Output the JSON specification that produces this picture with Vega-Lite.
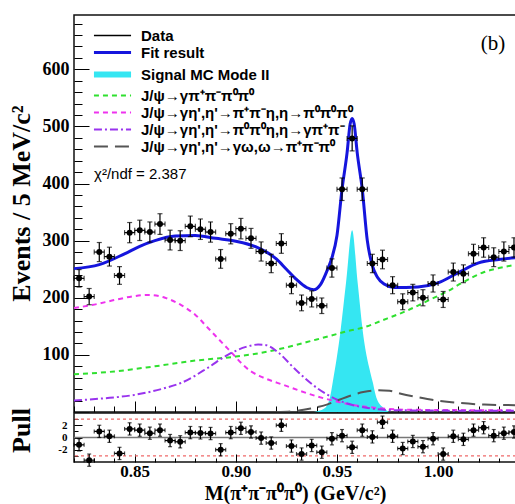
{
  "$schema": "https://vega.github.io/schema/vega-lite/v6.json",
  "background": "white",
  "padding": {"left": 7, "top": 13, "right": 0, "bottom": 0},
  "autosize": {"type": "pad"},
  "spacing": 1,
  "bounds": "flush",
  "config": {
    "view": {"stroke": "#111111", "strokeWidth": 1.5},
    "axis": {"grid": false, "domain": false, "tickColor": "black", "labelColor": "black", "titleColor": "black", "labelOverlap": false, "labelFlush": false}
  },
  "datasets": {
    "pts": [
      {"m": 0.8225, "v": 234, "e": 15.3, "p": -1.2, "w": 0.0025, "pe": 1},
      {"m": 0.8275, "v": 202, "e": 14.2, "p": -3.7, "w": 0.0025, "pe": 1},
      {"m": 0.8325, "v": 280, "e": 16.7, "p": 1.0, "w": 0.0025, "pe": 1},
      {"m": 0.8375, "v": 272, "e": 16.5, "p": 0.2, "w": 0.0025, "pe": 1},
      {"m": 0.8425, "v": 239, "e": 15.5, "p": -2.6, "w": 0.0025, "pe": 1},
      {"m": 0.8475, "v": 314, "e": 17.7, "p": 1.4, "w": 0.0025, "pe": 1},
      {"m": 0.8525, "v": 318, "e": 17.8, "p": 1.2, "w": 0.0025, "pe": 1},
      {"m": 0.8575, "v": 315, "e": 17.7, "p": 0.7, "w": 0.0025, "pe": 1},
      {"m": 0.8625, "v": 329, "e": 18.1, "p": 1.2, "w": 0.0025, "pe": 1},
      {"m": 0.8675, "v": 301, "e": 17.3, "p": -0.5, "w": 0.0025, "pe": 1},
      {"m": 0.8725, "v": 300, "e": 17.3, "p": -0.7, "w": 0.0025, "pe": 1},
      {"m": 0.8775, "v": 325, "e": 18.0, "p": 0.8, "w": 0.0025, "pe": 1},
      {"m": 0.8825, "v": 320, "e": 17.9, "p": 0.75, "w": 0.0025, "pe": 1},
      {"m": 0.8875, "v": 315, "e": 17.7, "p": 0.65, "w": 0.0025, "pe": 1},
      {"m": 0.8925, "v": 268, "e": 16.4, "p": -2.0, "w": 0.0025, "pe": 1},
      {"m": 0.8975, "v": 312, "e": 17.7, "p": 0.8, "w": 0.0025, "pe": 1},
      {"m": 0.9025, "v": 321, "e": 17.9, "p": 1.5, "w": 0.0025, "pe": 1},
      {"m": 0.9075, "v": 304, "e": 17.4, "p": 0.9, "w": 0.0025, "pe": 1},
      {"m": 0.9125, "v": 281, "e": 16.8, "p": -0.1, "w": 0.0025, "pe": 1},
      {"m": 0.9175, "v": 260, "e": 16.1, "p": -0.9, "w": 0.0025, "pe": 1},
      {"m": 0.9225, "v": 295, "e": 17.2, "p": 2.0, "w": 0.0025, "pe": 1},
      {"m": 0.9275, "v": 222, "e": 14.9, "p": -1.4, "w": 0.0025, "pe": 1},
      {"m": 0.9325, "v": 191, "e": 13.8, "p": -2.7, "w": 0.0025, "pe": 1},
      {"m": 0.9375, "v": 198, "e": 14.1, "p": -1.3, "w": 0.0025, "pe": 1},
      {"m": 0.9425, "v": 186, "e": 13.6, "p": -2.4, "w": 0.0025, "pe": 1},
      {"m": 0.9475, "v": 252, "e": 15.9, "p": -0.2, "w": 0.0025, "pe": 1},
      {"m": 0.9525, "v": 390, "e": 19.7, "p": 0.3, "w": 0.0025, "pe": 1},
      {"m": 0.9575, "v": 479, "e": 21.9, "p": -1.6, "w": 0.0025, "pe": 1},
      {"m": 0.9625, "v": 390, "e": 19.7, "p": 1.2, "w": 0.0025, "pe": 1},
      {"m": 0.9675, "v": 260, "e": 16.1, "p": 0.1, "w": 0.0025, "pe": 1},
      {"m": 0.9725, "v": 267, "e": 16.3, "p": 2.5, "w": 0.0025, "pe": 1},
      {"m": 0.9775, "v": 222, "e": 14.9, "p": 0.2, "w": 0.0025, "pe": 1},
      {"m": 0.9825, "v": 193, "e": 13.9, "p": -1.8, "w": 0.0025, "pe": 1},
      {"m": 0.9875, "v": 209, "e": 14.5, "p": -0.65, "w": 0.0025, "pe": 1},
      {"m": 0.9925, "v": 200, "e": 14.1, "p": -1.5, "w": 0.0025, "pe": 1},
      {"m": 0.9975, "v": 225, "e": 15.0, "p": -0.2, "w": 0.0025, "pe": 1},
      {"m": 1.0025, "v": 197, "e": 14.0, "p": -2.7, "w": 0.0025, "pe": 1},
      {"m": 1.0075, "v": 245, "e": 15.7, "p": 0.2, "w": 0.0025, "pe": 1},
      {"m": 1.0125, "v": 242, "e": 15.6, "p": -0.3, "w": 0.0025, "pe": 1},
      {"m": 1.0175, "v": 277, "e": 16.6, "p": 1.2, "w": 0.0025, "pe": 1},
      {"m": 1.0225, "v": 288, "e": 17.0, "p": 1.6, "w": 0.0025, "pe": 1},
      {"m": 1.0275, "v": 271, "e": 16.5, "p": 0.3, "w": 0.0025, "pe": 1},
      {"m": 1.0325, "v": 281, "e": 16.8, "p": 0.7, "w": 0.0025, "pe": 1},
      {"m": 1.0375, "v": 288, "e": 17.0, "p": 0.9, "w": 0.0025, "pe": 1}
    ],
    "fit": [
      {"m": 0.82, "v": 251}, {"m": 0.8325, "v": 258}, {"m": 0.845, "v": 277}, {"m": 0.8525, "v": 290},
      {"m": 0.86, "v": 300}, {"m": 0.87, "v": 308}, {"m": 0.88, "v": 309}, {"m": 0.89, "v": 304},
      {"m": 0.90, "v": 299}, {"m": 0.91, "v": 289}, {"m": 0.92, "v": 268}, {"m": 0.925, "v": 250},
      {"m": 0.93, "v": 232}, {"m": 0.935, "v": 218}, {"m": 0.9385, "v": 214}, {"m": 0.942, "v": 224},
      {"m": 0.9454, "v": 250}, {"m": 0.9475, "v": 270}, {"m": 0.95, "v": 309}, {"m": 0.9525, "v": 390},
      {"m": 0.955, "v": 454}, {"m": 0.9565, "v": 504}, {"m": 0.9575, "v": 514}, {"m": 0.9585, "v": 504},
      {"m": 0.96, "v": 454}, {"m": 0.9625, "v": 390}, {"m": 0.965, "v": 300}, {"m": 0.9675, "v": 256},
      {"m": 0.97, "v": 236}, {"m": 0.9733, "v": 224}, {"m": 0.9783, "v": 218}, {"m": 0.99, "v": 219},
      {"m": 1.0, "v": 226}, {"m": 1.01, "v": 244}, {"m": 1.02, "v": 261}, {"m": 1.03, "v": 267},
      {"m": 1.0385, "v": 270}
    ],
    "sig": [
      {"m": 0.9386, "v": 0}, {"m": 0.9437, "v": 6}, {"m": 0.9465, "v": 25}, {"m": 0.9479, "v": 52},
      {"m": 0.9517, "v": 140}, {"m": 0.9545, "v": 227}, {"m": 0.9575, "v": 318}, {"m": 0.9602, "v": 227},
      {"m": 0.9628, "v": 140}, {"m": 0.9677, "v": 52}, {"m": 0.9695, "v": 25}, {"m": 0.9734, "v": 6},
      {"m": 0.9757, "v": 0}
    ],
    "comp": [
      {"c": "J/ψ→γπ⁺π⁻π⁰π⁰", "m": 0.82, "v": 66},
      {"c": "J/ψ→γπ⁺π⁻π⁰π⁰", "m": 0.84, "v": 71},
      {"c": "J/ψ→γπ⁺π⁻π⁰π⁰", "m": 0.86, "v": 80},
      {"c": "J/ψ→γπ⁺π⁻π⁰π⁰", "m": 0.88, "v": 90},
      {"c": "J/ψ→γπ⁺π⁻π⁰π⁰", "m": 0.90, "v": 97},
      {"c": "J/ψ→γπ⁺π⁻π⁰π⁰", "m": 0.91, "v": 102},
      {"c": "J/ψ→γπ⁺π⁻π⁰π⁰", "m": 0.92, "v": 109},
      {"c": "J/ψ→γπ⁺π⁻π⁰π⁰", "m": 0.94, "v": 127},
      {"c": "J/ψ→γπ⁺π⁻π⁰π⁰", "m": 0.957, "v": 143},
      {"c": "J/ψ→γπ⁺π⁻π⁰π⁰", "m": 0.962, "v": 147},
      {"c": "J/ψ→γπ⁺π⁻π⁰π⁰", "m": 0.975, "v": 164},
      {"c": "J/ψ→γπ⁺π⁻π⁰π⁰", "m": 0.985, "v": 178},
      {"c": "J/ψ→γπ⁺π⁻π⁰π⁰", "m": 0.995, "v": 195},
      {"c": "J/ψ→γπ⁺π⁻π⁰π⁰", "m": 1.005, "v": 212},
      {"c": "J/ψ→γπ⁺π⁻π⁰π⁰", "m": 1.0113, "v": 225},
      {"c": "J/ψ→γπ⁺π⁻π⁰π⁰", "m": 1.0228, "v": 245},
      {"c": "J/ψ→γπ⁺π⁻π⁰π⁰", "m": 1.0278, "v": 250},
      {"c": "J/ψ→γπ⁺π⁻π⁰π⁰", "m": 1.0385, "v": 258},
      {"c": "J/ψ→γη',η'→π⁺π⁻η,η→π⁰π⁰π⁰", "m": 0.82, "v": 182},
      {"c": "J/ψ→γη',η'→π⁺π⁻η,η→π⁰π⁰π⁰", "m": 0.83, "v": 188},
      {"c": "J/ψ→γη',η'→π⁺π⁻η,η→π⁰π⁰π⁰", "m": 0.84, "v": 196},
      {"c": "J/ψ→γη',η'→π⁺π⁻η,η→π⁰π⁰π⁰", "m": 0.85, "v": 203},
      {"c": "J/ψ→γη',η'→π⁺π⁻η,η→π⁰π⁰π⁰", "m": 0.857, "v": 205},
      {"c": "J/ψ→γη',η'→π⁺π⁻η,η→π⁰π⁰π⁰", "m": 0.865, "v": 200},
      {"c": "J/ψ→γη',η'→π⁺π⁻η,η→π⁰π⁰π⁰", "m": 0.873, "v": 187},
      {"c": "J/ψ→γη',η'→π⁺π⁻η,η→π⁰π⁰π⁰", "m": 0.88, "v": 170},
      {"c": "J/ψ→γη',η'→π⁺π⁻η,η→π⁰π⁰π⁰", "m": 0.886, "v": 148},
      {"c": "J/ψ→γη',η'→π⁺π⁻η,η→π⁰π⁰π⁰", "m": 0.896, "v": 111},
      {"c": "J/ψ→γη',η'→π⁺π⁻η,η→π⁰π⁰π⁰", "m": 0.9075, "v": 71},
      {"c": "J/ψ→γη',η'→π⁺π⁻η,η→π⁰π⁰π⁰", "m": 0.9124, "v": 62},
      {"c": "J/ψ→γη',η'→π⁺π⁻η,η→π⁰π⁰π⁰", "m": 0.9239, "v": 47},
      {"c": "J/ψ→γη',η'→π⁺π⁻η,η→π⁰π⁰π⁰", "m": 0.9405, "v": 27},
      {"c": "J/ψ→γη',η'→π⁺π⁻η,η→π⁰π⁰π⁰", "m": 0.957, "v": 13},
      {"c": "J/ψ→γη',η'→π⁺π⁻η,η→π⁰π⁰π⁰", "m": 0.97, "v": 7},
      {"c": "J/ψ→γη',η'→π⁺π⁻η,η→π⁰π⁰π⁰", "m": 0.985, "v": 4},
      {"c": "J/ψ→γη',η'→π⁺π⁻η,η→π⁰π⁰π⁰", "m": 1.0385, "v": 3},
      {"c": "J/ψ→γη',η'→π⁰π⁰η,η→γπ⁺π⁻", "m": 0.82, "v": 20},
      {"c": "J/ψ→γη',η'→π⁰π⁰η,η→γπ⁺π⁻", "m": 0.835, "v": 24},
      {"c": "J/ψ→γη',η'→π⁰π⁰η,η→γπ⁺π⁻", "m": 0.85, "v": 30},
      {"c": "J/ψ→γη',η'→π⁰π⁰η,η→γπ⁺π⁻", "m": 0.865, "v": 42},
      {"c": "J/ψ→γη',η'→π⁰π⁰η,η→γπ⁺π⁻", "m": 0.873, "v": 51},
      {"c": "J/ψ→γη',η'→π⁰π⁰η,η→γπ⁺π⁻", "m": 0.886, "v": 77},
      {"c": "J/ψ→γη',η'→π⁰π⁰η,η→γπ⁺π⁻", "m": 0.896, "v": 100},
      {"c": "J/ψ→γη',η'→π⁰π⁰η,η→γπ⁺π⁻", "m": 0.905, "v": 114},
      {"c": "J/ψ→γη',η'→π⁰π⁰η,η→γπ⁺π⁻", "m": 0.911, "v": 118},
      {"c": "J/ψ→γη',η'→π⁰π⁰η,η→γπ⁺π⁻", "m": 0.915, "v": 117},
      {"c": "J/ψ→γη',η'→π⁰π⁰η,η→γπ⁺π⁻", "m": 0.9207, "v": 105},
      {"c": "J/ψ→γη',η'→π⁰π⁰η,η→γπ⁺π⁻", "m": 0.929, "v": 76},
      {"c": "J/ψ→γη',η'→π⁰π⁰η,η→γπ⁺π⁻", "m": 0.9405, "v": 41},
      {"c": "J/ψ→γη',η'→π⁰π⁰η,η→γπ⁺π⁻", "m": 0.9504, "v": 21},
      {"c": "J/ψ→γη',η'→π⁰π⁰η,η→γπ⁺π⁻", "m": 0.9652, "v": 7},
      {"c": "J/ψ→γη',η'→π⁰π⁰η,η→γπ⁺π⁻", "m": 0.98, "v": 3},
      {"c": "J/ψ→γη',η'→π⁰π⁰η,η→γπ⁺π⁻", "m": 1.0385, "v": 2},
      {"c": "J/ψ→γη',η'→γω,ω→π⁺π⁻π⁰", "m": 0.92, "v": 0},
      {"c": "J/ψ→γη',η'→γω,ω→π⁺π⁻π⁰", "m": 0.93, "v": 2},
      {"c": "J/ψ→γη',η'→γω,ω→π⁺π⁻π⁰", "m": 0.937, "v": 6},
      {"c": "J/ψ→γη',η'→γω,ω→π⁺π⁻π⁰", "m": 0.945, "v": 13},
      {"c": "J/ψ→γη',η'→γω,ω→π⁺π⁻π⁰", "m": 0.9487, "v": 18},
      {"c": "J/ψ→γη',η'→γω,ω→π⁺π⁻π⁰", "m": 0.957, "v": 29},
      {"c": "J/ψ→γη',η'→γω,ω→π⁺π⁻π⁰", "m": 0.963, "v": 35},
      {"c": "J/ψ→γη',η'→γω,ω→π⁺π⁻π⁰", "m": 0.97, "v": 38},
      {"c": "J/ψ→γη',η'→γω,ω→π⁺π⁻π⁰", "m": 0.976, "v": 37},
      {"c": "J/ψ→γη',η'→γω,ω→π⁺π⁻π⁰", "m": 0.9816, "v": 32},
      {"c": "J/ψ→γη',η'→γω,ω→π⁺π⁻π⁰", "m": 0.99, "v": 26},
      {"c": "J/ψ→γη',η'→γω,ω→π⁺π⁻π⁰", "m": 0.998, "v": 21},
      {"c": "J/ψ→γη',η'→γω,ω→π⁺π⁻π⁰", "m": 1.01, "v": 16},
      {"c": "J/ψ→γη',η'→γω,ω→π⁺π⁻π⁰", "m": 1.0228, "v": 13},
      {"c": "J/ψ→γη',η'→γω,ω→π⁺π⁻π⁰", "m": 1.0385, "v": 12}
    ]
  },
  "vconcat": [
    {
      "width": 442,
      "height": 397,
      "layer": [
        {
          "encoding": {
            "x": {"field": "m", "type": "quantitative",
              "scale": {"domain": [0.82, 1.0385], "nice": false, "zero": false},
              "axis": {"values": [0.82,0.83,0.84,0.85,0.86,0.87,0.88,0.89,0.9,0.91,0.92,0.93,0.94,0.95,0.96,0.97,0.98,0.99,1.0,1.01,1.02,1.03],
                "tickSize": {"condition": {"test": "abs(datum.value*20 - round(datum.value*20)) < 0.001", "value": -11}, "value": -6},
                "tickWidth": 1, "labels": false, "title": null}},
            "y": {"field": "v", "type": "quantitative",
              "scale": {"domain": [0, 695], "nice": false, "zero": false},
              "axis": {"values": [0,20,40,60,80,100,120,140,160,180,200,220,240,260,280,300,320,340,360,380,400,420,440,460,480,500,520,540,560,580,600,620,640,660,680],
                "tickSize": {"condition": {"test": "datum.value % 100 === 0", "value": -15}, "value": -8},
                "tickWidth": 1,
                "labelExpr": "datum.value % 100 === 0 && datum.value > 0 ? datum.label : ''",
                "labelFont": "Liberation Serif", "labelFontWeight": "bold", "labelFontSize": 18, "labelPadding": 20,
                "minExtent": 33, "maxExtent": 33,
                "title": "Events / 5 MeV/c²", "titleFont": "Liberation Serif", "titleFontWeight": "bold", "titleFontSize": 26, "titlePadding": 7, "titleY": 188}}
          },
          "layer": [
            {"data": {"name": "sig"}, "mark": {"type": "area", "color": "#35e6f2", "interpolate": "monotone"}},
            {"data": {"name": "comp"},
              "mark": {"type": "line", "interpolate": "monotone"},
              "encoding": {
                "color": {"field": "c", "type": "nominal",
                  "scale": {"domain": ["Data", "Fit result", "Signal MC Mode II", "J/ψ→γπ⁺π⁻π⁰π⁰", "J/ψ→γη',η'→π⁺π⁻η,η→π⁰π⁰π⁰", "J/ψ→γη',η'→π⁰π⁰η,η→γπ⁺π⁻", "J/ψ→γη',η'→γω,ω→π⁺π⁻π⁰"],
                    "range": ["#000000", "#1515dd", "#35e6f2", "#2fe02f", "#ee33ee", "#9933ee", "#555555"]},
                  "legend": {"orient": "none", "legendX": 31, "legendY": 13, "title": null, "direction": "vertical",
                    "symbolType": "M-5.3,0H5.3", "symbolSize": 49, "labelOffset": 21, "rowPadding": 1,
                    "labelFont": "Liberation Sans", "labelFontWeight": "bold", "labelFontSize": 15, "labelColor": "black", "labelLimit": 400}},
                "strokeDash": {"field": "c", "type": "nominal",
                  "scale": {"domain": ["Data", "Fit result", "Signal MC Mode II", "J/ψ→γπ⁺π⁻π⁰π⁰", "J/ψ→γη',η'→π⁺π⁻η,η→π⁰π⁰π⁰", "J/ψ→γη',η'→π⁰π⁰η,η→γπ⁺π⁻", "J/ψ→γη',η'→γω,ω→π⁺π⁻π⁰"],
                    "range": [[1,0],[1,0],[1,0],[5,4],[5,4],[8,3,2,3],[14,7]]},
                  "legend": {"orient": "none", "legendX": 31, "legendY": 13, "title": null, "direction": "vertical",
                    "symbolType": "M-5.3,0H5.3", "symbolSize": 49, "labelOffset": 21, "rowPadding": 1,
                    "labelFont": "Liberation Sans", "labelFontWeight": "bold", "labelFontSize": 15, "labelColor": "black", "labelLimit": 400}},
                "strokeWidth": {"field": "c", "type": "nominal",
                  "scale": {"type": "ordinal", "domain": ["Data", "Fit result", "Signal MC Mode II", "J/ψ→γπ⁺π⁻π⁰π⁰", "J/ψ→γη',η'→π⁺π⁻η,η→π⁰π⁰π⁰", "J/ψ→γη',η'→π⁰π⁰η,η→γπ⁺π⁻", "J/ψ→γη',η'→γω,ω→π⁺π⁻π⁰"],
                    "range": [1.3, 3, 6, 2, 2, 2, 2]},
                  "legend": {"orient": "none", "legendX": 31, "legendY": 13, "title": null, "direction": "vertical",
                    "symbolType": "M-5.3,0H5.3", "symbolSize": 49, "labelOffset": 21, "rowPadding": 1,
                    "labelFont": "Liberation Sans", "labelFontWeight": "bold", "labelFontSize": 15, "labelColor": "black", "labelLimit": 400}}
              }},
            {"data": {"name": "fit"}, "mark": {"type": "line", "color": "#1515dd", "strokeWidth": 3, "interpolate": "monotone"}},
            {"data": {"name": "pts"}, "mark": {"type": "errorbar", "color": "black", "thickness": 1.2, "ticks": {"size": 5}}, "encoding": {"yError": {"field": "e"}}},
            {"data": {"name": "pts"}, "mark": {"type": "errorbar", "color": "black", "thickness": 1.2, "ticks": {"size": 5}}, "encoding": {"xError": {"field": "w"}}},
            {"data": {"name": "pts"}, "mark": {"type": "point", "filled": true, "color": "black", "size": 36, "opacity": 1}}
          ]
        },
        {"data": {"values": [{"label": "χ²/ndf = 2.387"}]}, "mark": {"type": "text", "align": "left", "baseline": "middle", "font": "Liberation Sans", "fontSize": 15, "color": "black"},
          "encoding": {
            "x": {"datum": 0.8299, "type": "quantitative",
              "scale": {"domain": [0.82, 1.0385], "nice": false, "zero": false},
              "axis": {"values": [0.82,0.83,0.84,0.85,0.86,0.87,0.88,0.89,0.9,0.91,0.92,0.93,0.94,0.95,0.96,0.97,0.98,0.99,1.0,1.01,1.02,1.03],
                "tickSize": {"condition": {"test": "abs(datum.value*20 - round(datum.value*20)) < 0.001", "value": -11}, "value": -6},
                "tickWidth": 1, "labels": false, "title": null}},
            "y": {"datum": 416, "type": "quantitative",
              "scale": {"domain": [0, 695], "nice": false, "zero": false},
              "axis": {"values": [0,20,40,60,80,100,120,140,160,180,200,220,240,260,280,300,320,340,360,380,400,420,440,460,480,500,520,540,560,580,600,620,640,660,680],
                "tickSize": {"condition": {"test": "datum.value % 100 === 0", "value": -15}, "value": -8},
                "tickWidth": 1,
                "labelExpr": "datum.value % 100 === 0 && datum.value > 0 ? datum.label : ''",
                "labelFont": "Liberation Serif", "labelFontWeight": "bold", "labelFontSize": 18, "labelPadding": 20,
                "minExtent": 33, "maxExtent": 33,
                "title": "Events / 5 MeV/c²", "titleFont": "Liberation Serif", "titleFontWeight": "bold", "titleFontSize": 26, "titlePadding": 7, "titleY": 188}},
            "text": {"field": "label"}}},
        {"data": {"values": [{"label": "(b)"}]}, "mark": {"type": "text", "align": "center", "baseline": "middle", "font": "Liberation Serif", "fontSize": 21, "color": "black"},
          "encoding": {
            "x": {"datum": 1.0271, "type": "quantitative",
              "scale": {"domain": [0.82, 1.0385], "nice": false, "zero": false},
              "axis": {"values": [0.82,0.83,0.84,0.85,0.86,0.87,0.88,0.89,0.9,0.91,0.92,0.93,0.94,0.95,0.96,0.97,0.98,0.99,1.0,1.01,1.02,1.03],
                "tickSize": {"condition": {"test": "abs(datum.value*20 - round(datum.value*20)) < 0.001", "value": -11}, "value": -6},
                "tickWidth": 1, "labels": false, "title": null}},
            "y": {"datum": 644, "type": "quantitative",
              "scale": {"domain": [0, 695], "nice": false, "zero": false},
              "axis": {"values": [0,20,40,60,80,100,120,140,160,180,200,220,240,260,280,300,320,340,360,380,400,420,440,460,480,500,520,540,560,580,600,620,640,660,680],
                "tickSize": {"condition": {"test": "datum.value % 100 === 0", "value": -15}, "value": -8},
                "tickWidth": 1,
                "labelExpr": "datum.value % 100 === 0 && datum.value > 0 ? datum.label : ''",
                "labelFont": "Liberation Serif", "labelFontWeight": "bold", "labelFontSize": 18, "labelPadding": 20,
                "minExtent": 33, "maxExtent": 33,
                "title": "Events / 5 MeV/c²", "titleFont": "Liberation Serif", "titleFontWeight": "bold", "titleFontSize": 26, "titlePadding": 7, "titleY": 188}},
            "text": {"field": "label"}}}
      ]
    },
    {
      "width": 442,
      "height": 49,
      "layer": [
        {
          "data": {"values": [{"lvl": 3}, {"lvl": -3}]},
          "mark": {"type": "rule", "color": "#f06a6a", "strokeDash": [3, 3], "strokeWidth": 1.3},
          "encoding": {
            "y": {"field": "lvl", "type": "quantitative",
              "scale": {"domain": [-4, 4], "nice": false, "zero": false},
              "axis": {"values": [-3,-2,-1,0,1,2,3],
                "tickSize": {"condition": {"test": "datum.value % 2 === 0", "value": -8}, "value": -4},
                "tickWidth": 1,
                "labelExpr": "datum.value % 2 === 0 ? '' + datum.value : ''",
                "labelFont": "Liberation Serif", "labelFontWeight": "bold", "labelFontSize": 11, "labelPadding": 15,
                "minExtent": 33, "maxExtent": 33,
                "title": "Pull", "titleFont": "Liberation Serif", "titleFontWeight": "bold", "titleFontSize": 26, "titlePadding": 7, "titleY": 17}}
          }
        },
        {
          "data": {"values": [{"lvl": 0}]},
          "mark": {"type": "rule", "color": "#777777", "strokeWidth": 1.5},
          "encoding": {
            "y": {"field": "lvl", "type": "quantitative",
              "scale": {"domain": [-4, 4], "nice": false, "zero": false},
              "axis": {"values": [-3,-2,-1,0,1,2,3],
                "tickSize": {"condition": {"test": "datum.value % 2 === 0", "value": -8}, "value": -4},
                "tickWidth": 1,
                "labelExpr": "datum.value % 2 === 0 ? '' + datum.value : ''",
                "labelFont": "Liberation Serif", "labelFontWeight": "bold", "labelFontSize": 11, "labelPadding": 15,
                "minExtent": 33, "maxExtent": 33,
                "title": "Pull", "titleFont": "Liberation Serif", "titleFontWeight": "bold", "titleFontSize": 26, "titlePadding": 7, "titleY": 17}}
          }
        },
        {
          "data": {"name": "pts"},
          "encoding": {
            "x": {"field": "m", "type": "quantitative",
              "scale": {"domain": [0.82, 1.0385], "nice": false, "zero": false},
              "axis": {"values": [0.82,0.83,0.84,0.85,0.86,0.87,0.88,0.89,0.9,0.91,0.92,0.93,0.94,0.95,0.96,0.97,0.98,0.99,1.0,1.01,1.02,1.03],
                "tickSize": {"condition": {"test": "abs(datum.value*20 - round(datum.value*20)) < 0.001", "value": -8}, "value": -4},
                "tickWidth": 1,
                "labelExpr": "abs(datum.value*20 - round(datum.value*20)) < 0.001 ? format(datum.value, '.2f') : ''",
                "labelFont": "Liberation Serif", "labelFontWeight": "bold", "labelFontSize": 17, "labelPadding": 9,
                "title": "M(π⁺π⁻π⁰π⁰) (GeV/c²)", "titleFont": "Liberation Serif", "titleFontWeight": "bold", "titleFontSize": 20, "titlePadding": 0}},
            "y": {"field": "p", "type": "quantitative",
              "scale": {"domain": [-4, 4], "nice": false, "zero": false},
              "axis": {"values": [-3,-2,-1,0,1,2,3],
                "tickSize": {"condition": {"test": "datum.value % 2 === 0", "value": -8}, "value": -4},
                "tickWidth": 1,
                "labelExpr": "datum.value % 2 === 0 ? '' + datum.value : ''",
                "labelFont": "Liberation Serif", "labelFontWeight": "bold", "labelFontSize": 11, "labelPadding": 15,
                "minExtent": 33, "maxExtent": 33,
                "title": "Pull", "titleFont": "Liberation Serif", "titleFontWeight": "bold", "titleFontSize": 26, "titlePadding": 7, "titleY": 17}}
          },
          "layer": [
            {"mark": {"type": "errorbar", "color": "black", "thickness": 1.2, "ticks": {"size": 4}}, "encoding": {"yError": {"field": "pe"}}},
            {"mark": {"type": "errorbar", "color": "black", "thickness": 1.2, "ticks": {"size": 4}}, "encoding": {"xError": {"field": "w"}}},
            {"mark": {"type": "point", "filled": true, "color": "black", "size": 36, "opacity": 1}}
          ]
        }
      ]
    }
  ]
}
